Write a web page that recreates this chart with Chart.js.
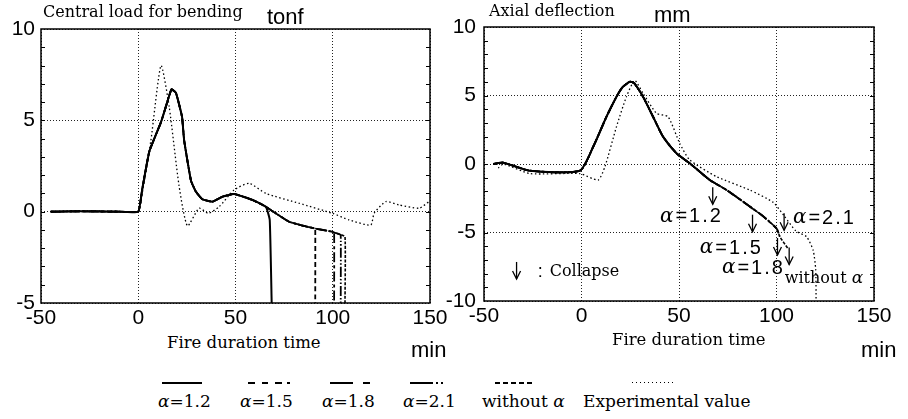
<!DOCTYPE html>
<html>
<head>
<meta charset="utf-8">
<script src="https://cdn.jsdelivr.net/npm/chart.js@4"></script>
<style>
  body { margin: 0; background: #fff; }
  #wrap { position: relative; width: 908px; height: 419px; overflow: hidden; color: #000; }
  canvas { position: absolute; top: 0; }
  .t { position: absolute; white-space: nowrap; line-height: 20px; }
  .serif { font-family: "DejaVu Serif", serif; font-size: 16px; }
  .sans { font-family: "Liberation Sans", Arial, sans-serif; font-size: 22px; }
  .lg { font-family: "DejaVu Serif", serif; font-size: 17px; }
  .a { font-style: italic; }
  .seg { position: absolute; height: 0; border-top: 2px solid #000; }
</style>
</head>
<body>
<div id="wrap">
  <canvas id="loadChart" width="460" height="330" style="left:0"></canvas>
  <canvas id="deflChart" width="468" height="330" style="left:440px"></canvas>

  <div class="t serif" style="left:43px; top:2px">Central load for bending</div>
  <div class="t sans" style="left:267px; top:7px">tonf</div>
  <div class="t serif" style="left:489px; top:1px">Axial deflection</div>
  <div class="t sans" style="left:654px; top:5px">mm</div>
  <div class="t serif" style="left:167px; top:333px; font-size:16.5px">Fire duration time</div>
  <div class="t sans" style="left:411px; top:340px">min</div>
  <div class="t serif" style="left:612px; top:330px; font-size:16.5px">Fire duration time</div>
  <div class="t sans" style="left:861px; top:340px">min</div>

  <div id="legend"></div>
</div>
<script>
// axis ticks
const xTicks = [-50, 0, 50, 100, 150];
const loadTicks = [-5, 0, 5, 10];
const deflTicks = [-10, -5, 0, 5, 10];

const seriesNames = ["α=1.2", "α=1.5", "α=1.8", "α=2.1", "without α", "Experimental value"];

// central load (tonf) - analysis, shared path before collapse
const loadTime = [-45, -30, -10, 0, 2, 5.7, 11.7, 14.2, 17.1, 19.4, 22.5, 23.6, 27.1, 29.6, 33, 38.2, 43.3, 49.3, 58.8, 65.6, 70, 77.6, 84, 90.4, 99.8, 103, 106.3];
const loadCalc = [0, 0.02, 0, 0, 1.2, 3.3, 4.9, 5.75, 6.7, 6.5, 5.2, 3.9, 1.7, 1.1, 0.68, 0.55, 0.82, 0.97, 0.64, 0.27, -0.04, -0.55, -0.75, -0.91, -1.1, -1.22, -1.37];
// collapse of each alpha case
const loadCollapseTime = [67.6, 91, 100.7, 104.1, 106.3];
const loadCollapseVal = [-0.45, -0.93, -1.12, -1.26, -1.37];
const loadDropTime = [68.6, 91, 100.7, 104.1, 106.3];
// experiment
const loadExpTime = [-45, -30, -10, 0, 1.4, 6.5, 11.7, 15.9, 21, 25.3, 31.3, 36, 41.6, 49.3, 57, 65.6, 82.7, 99.8, 108.4, 119.5, 121.3, 127.3, 134, 144.4, 149.5];
const loadExp = [0, 0.05, 0.02, 0.02, 0.6, 3.9, 8.0, 5.75, 1.4, -0.78, 0.19, -0.09, 0.27, 1.19, 1.55, 1.0, 0.46, -0.09, -0.45, -0.73, -0.09, 0.55, 0.37, 0.19, 0.55];

// axial deflection (mm)
const deflTime = [-45.2, -40.2, -26.5, -0.9, 6, 12.8, 17.9, 21, 24.8, 27, 31.6, 36.7, 41.8, 48.7, 55.5, 65.8, 74.4, 86.3, 93, 100, 101.7, 106];
const deflCalc = [0, 0.1, -0.49, -0.49, 1.26, 3.45, 4.9, 5.6, 6.0, 5.9, 4.9, 3.45, 2.0, 0.78, 0.05, -1.17, -1.9, -3.1, -3.8, -4.7, -5.3, -6.2];
const deflCollapseTime = [67, 88, 100, 102, 106];
const deflCollapseVal = [-1.3, -3.3, -4.7, -5.4, -6.2];
const deflExpTime = [-42.7, -40, -26.5, -0.9, 8.5, 12, 17.9, 23, 27.3, 31.6, 38.5, 44.4, 50.4, 55.5, 69.2, 86.3, 98.3, 104, 110, 115.4, 118.8, 120.1, 120.3];
const deflExp = [-0.3, 0, -0.7, -0.7, -1.17, -0.2, 2.7, 4.9, 6.1, 5.15, 3.7, 3.45, 1.5, 0.3, -0.92, -1.9, -2.8, -3.8, -4.9, -5.3, -6.3, -7.7, -10];

// collapse notes on the deflection chart
const arrowTime = [67.3, 87.7, 100.5, 103.9, 106.5];
const arrowTop = [-1.7, -3.7, -5.4, -3.6, -6.1];

const dashes = [[], [5, 3], [10, 3, 3, 3], [10, 2, 1.5, 2, 1.5, 2], [3, 1.5], [1.5, 2.5]];
const widths = [2, 1.8, 1.8, 1.8, 1.6, 1.3];

function pts(ts, vs) {
  return ts.map((t, i) => ({ x: t, y: vs[i] }));
}

function lineSet(i, data, tension) {
  return {
    label: seriesNames[i],
    data: data,
    borderColor: "#000",
    borderWidth: widths[i],
    borderDash: dashes[i],
    pointRadius: 0,
    fill: false,
    tension: tension,
  };
}

function loadSets() {
  const sets = [];
  for (let i = 0; i < 5; i++) {
    const d = pts(loadTime, loadCalc).filter((p) => p.x < loadCollapseTime[i]);
    d.push({ x: loadCollapseTime[i], y: loadCollapseVal[i] });
    d.push({ x: loadDropTime[i], y: -5 });
    sets.push(lineSet(i, d, 0.12));
  }
  sets.push(lineSet(5, pts(loadExpTime, loadExp), 0.2));
  return sets;
}

function deflSets() {
  const sets = [];
  for (let i = 0; i < 5; i++) {
    const d = pts(deflTime, deflCalc).filter((p) => p.x < deflCollapseTime[i]);
    d.push({ x: deflCollapseTime[i], y: deflCollapseVal[i] });
    sets.push(lineSet(i, d, 0.2));
  }
  sets.push(lineSet(5, pts(deflExpTime, deflExp), 0.2));
  return sets;
}

const framePlugin = {
  id: "frame",
  afterDatasetsDraw(chart) {
    const { ctx, chartArea: a, scales } = chart;
    const y = scales.y;
    ctx.save();
    ctx.strokeStyle = "#000";
    ctx.lineWidth = 1.5;
    ctx.strokeRect(a.left, a.top, a.right - a.left, a.bottom - a.top);
    ctx.lineWidth = 1;
    for (let v = y.min + 1; v < y.max; v++) {
      const py = Math.round(y.getPixelForValue(v)) + 0.5;
      ctx.beginPath();
      ctx.moveTo(a.left, py);
      ctx.lineTo(a.left + 4, py);
      ctx.moveTo(a.right, py);
      ctx.lineTo(a.right - 4, py);
      ctx.stroke();
    }
    ctx.restore();
  },
};

function drawArrow(ctx, px, py) {
  ctx.beginPath();
  ctx.moveTo(px, py);
  ctx.lineTo(px, py + 17);
  ctx.stroke();
  ctx.beginPath();
  ctx.moveTo(px - 4, py + 9);
  ctx.lineTo(px, py + 17);
  ctx.lineTo(px + 4, py + 9);
  ctx.stroke();
}

function drawAlpha(ctx, rest, px, py) {
  ctx.font = "italic 20px 'DejaVu Serif'";
  ctx.fillText("α", px, py);
  const w = ctx.measureText("α").width;
  ctx.font = "20px 'Liberation Sans'";
  ctx.letterSpacing = "2px";
  ctx.fillText(rest, px + w + 2, py);
  ctx.letterSpacing = "0px";
}

const notesPlugin = {
  id: "notes",
  afterDatasetsDraw(chart) {
    const { ctx, scales: { x, y } } = chart;
    ctx.save();
    ctx.strokeStyle = "#000";
    ctx.fillStyle = "#000";
    ctx.lineWidth = 1.3;
    ctx.textBaseline = "middle";
    arrowTime.forEach((t, i) => drawArrow(ctx, x.getPixelForValue(t), y.getPixelForValue(arrowTop[i])));
    drawAlpha(ctx, "=1.2", x.getPixelForValue(40.2), y.getPixelForValue(-3.85));
    drawAlpha(ctx, "=1.5", x.getPixelForValue(60.7), y.getPixelForValue(-6.15));
    drawAlpha(ctx, "=1.8", x.getPixelForValue(72), y.getPixelForValue(-7.6));
    drawAlpha(ctx, "=2.1", x.getPixelForValue(108.4), y.getPixelForValue(-3.96));
    ctx.font = "16px 'DejaVu Serif'";
    const wx = x.getPixelForValue(104.2), wy = y.getPixelForValue(-8.35);
    ctx.fillText("without ", wx, wy);
    const ww = ctx.measureText("without ").width;
    ctx.font = "italic 17px 'DejaVu Serif'";
    ctx.fillText("α", wx + ww, wy);
    // collapse key
    drawArrow(ctx, x.getPixelForValue(-33.3), y.getPixelForValue(-7.15));
    ctx.font = "18px 'Liberation Sans'";
    ctx.fillText(":", x.getPixelForValue(-22.4), y.getPixelForValue(-7.86));
    ctx.font = "16px 'DejaVu Serif'";
    ctx.fillText("Collapse", x.getPixelForValue(-16.3), y.getPixelForValue(-7.86));
    ctx.restore();
  },
};

function makeChart(id, datasets, yTicks, box, extraPlugins) {
  const tickFont = { family: "'Liberation Sans', Arial, sans-serif", size: 21 };
  return new Chart(document.getElementById(id), {
    type: "line",
    data: { datasets: datasets },
    options: {
      responsive: false,
      devicePixelRatio: 1,
      animation: false,
      layout: { padding: { top: box.top, right: box.right, left: 0, bottom: 0 } },
      plugins: { legend: { display: false }, tooltip: { enabled: false } },
      scales: {
        x: {
          type: "linear",
          min: xTicks[0],
          max: xTicks[xTicks.length - 1],
          afterBuildTicks: (s) => { s.ticks = xTicks.map((v) => ({ value: v })); },
          afterFit: (s) => { s.height = box.xh; },
          ticks: { color: "#000", font: tickFont, padding: 3, maxRotation: 0, autoSkip: false },
          grid: { color: "#222", lineWidth: 1, drawTicks: false },
          border: { display: false, dash: [1, 2] },
        },
        y: {
          min: yTicks[0],
          max: yTicks[yTicks.length - 1],
          afterBuildTicks: (s) => { s.ticks = yTicks.map((v) => ({ value: v })); },
          afterFit: (s) => { s.width = box.yw; },
          ticks: { color: "#000", font: tickFont, padding: box.ypad },
          grid: { color: "#222", lineWidth: 1, drawTicks: false },
          border: { display: false, dash: [1, 2] },
        },
      },
    },
    plugins: [framePlugin].concat(extraPlugins),
  });
}

makeChart("loadChart", loadSets(), loadTicks, { top: 29, right: 30, xh: 27, yw: 41, ypad: 6 }, []);
makeChart("deflChart", deflSets(), deflTicks, { top: 27, right: 34, xh: 29, yw: 44, ypad: 8 }, [notesPlugin]);

// legend below the charts: [left, width, thickness] of each sample stroke
const legendSegs = [
  [[162, 40, 2]],
  [[248, 7, 2], [262, 6, 2], [275, 7, 2], [287, 3, 2]],
  [[330, 23, 2], [363, 7, 2]],
  [[410, 23, 2], [436, 2, 2], [441, 2, 2]],
  [[495, 5, 2], [503, 5, 2], [511, 5, 2], [519, 5, 2], [527, 5, 2]],
  [[632, 1, 1], [636, 1, 1], [640, 1, 1], [644, 1, 1], [648, 1, 1], [652, 1, 1], [656, 1, 1], [660, 1, 1], [664, 1, 1], [668, 1, 1], [672, 1, 1]],
];
const legendLabelX = [158, 240, 322, 403, 482, 583];
const legend = document.getElementById("legend");
legendSegs.forEach((segs, i) => {
  segs.forEach(([l, w, h]) => {
    const s = document.createElement("div");
    s.className = "seg";
    s.style.left = l + "px";
    s.style.top = "382px";
    s.style.width = w + "px";
    s.style.borderTopWidth = h + "px";
    legend.appendChild(s);
  });
  const lab = document.createElement("div");
  lab.className = "t lg";
  lab.style.left = legendLabelX[i] + "px";
  lab.style.top = "391px";
  const name = seriesNames[i];
  if (name.includes("α")) {
    lab.innerHTML = name.replace("α", '<span class="a">α</span>');
  } else {
    lab.textContent = name;
  }
  legend.appendChild(lab);
});
</script>
</body>
</html>
